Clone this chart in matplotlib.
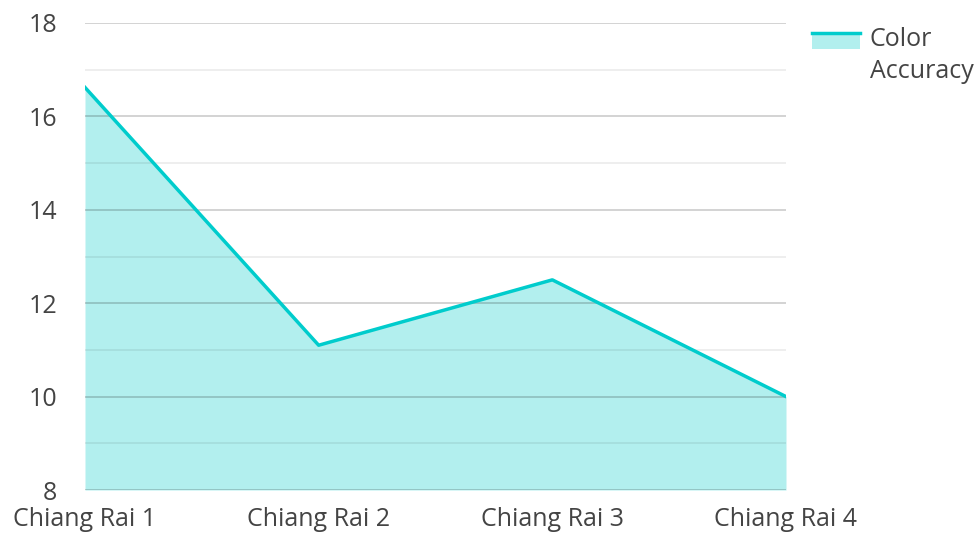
import matplotlib
matplotlib.use("Agg")
import matplotlib.pyplot as plt
from matplotlib.legend_handler import HandlerBase
from matplotlib.patches import Rectangle
from matplotlib.lines import Line2D

plt.rcParams['font.family'] = ['Open Sans', 'DejaVu Sans']

categories = ["Chiang Rai 1", "Chiang Rai 2", "Chiang Rai 3", "Chiang Rai 4"]
color_accuracy = [16.62, 11.1, 12.5, 10.0]
series_name = "Color\nAccuracy"

line_col = "#00cccc"
fill_col = "#b2efee"
text_col = "#444444"


class AreaHandler(HandlerBase):
    def create_artists(self, legend, orig, xd, yd, w, h, fontsize, trans):
        top = yd + h * 1.2 + 8
        rect = Rectangle((xd, top - 12), w, 12, facecolor=fill_col,
                         edgecolor="none", transform=trans)
        ln = Line2D([xd, xd + w], [top, top], color=line_col, lw=2.5,
                    transform=trans)
        return [rect, ln]


fig = plt.figure(figsize=(9.76, 5.33), dpi=100)
ax = fig.add_axes([85 / 976, 1 - 490 / 533, (786 - 85) / 976, (490 - 23) / 533])

x = list(range(len(categories)))
ax.fill_between(x, color_accuracy, 8, color=fill_col, lw=0, zorder=1)
ax.plot(x, color_accuracy, color=line_col, lw=2.5, zorder=3)

ax.set_xlim(0, len(categories) - 1)
ax.set_ylim(8, 18)
ax.set_yticks([8, 10, 12, 14, 16, 18])
ax.set_yticks([9, 11, 13, 15, 17], minor=True)
ax.set_xticks(x)
ax.set_xticklabels(categories)

ax.grid(axis='y', which='major', color='#000000', alpha=0.2, lw=1.2, zorder=2)
ax.grid(axis='y', which='minor', color='#000000', alpha=0.08, lw=1.2, zorder=2)
ax.set_axisbelow(False)
for s in ax.spines.values():
    s.set_visible(False)
ax.tick_params(axis='both', which='both', length=0, labelsize=18,
               labelcolor=text_col)
ax.tick_params(axis='y', pad=20)
ax.tick_params(axis='x', pad=12)

handle = Rectangle((0, 0), 1, 1)
leg = fig.legend([handle], [series_name], handler_map={Rectangle: AreaHandler()},
                 loc='upper left', bbox_to_anchor=(797 / 976, 1 - 12 / 533),
                 frameon=False, fontsize=18, labelcolor=text_col,
                 handlelength=1.9, handletextpad=0.4, borderaxespad=0.2)
for t in leg.get_texts():
    t.set_linespacing(1.35)

fig.savefig("out.png", dpi=100)
